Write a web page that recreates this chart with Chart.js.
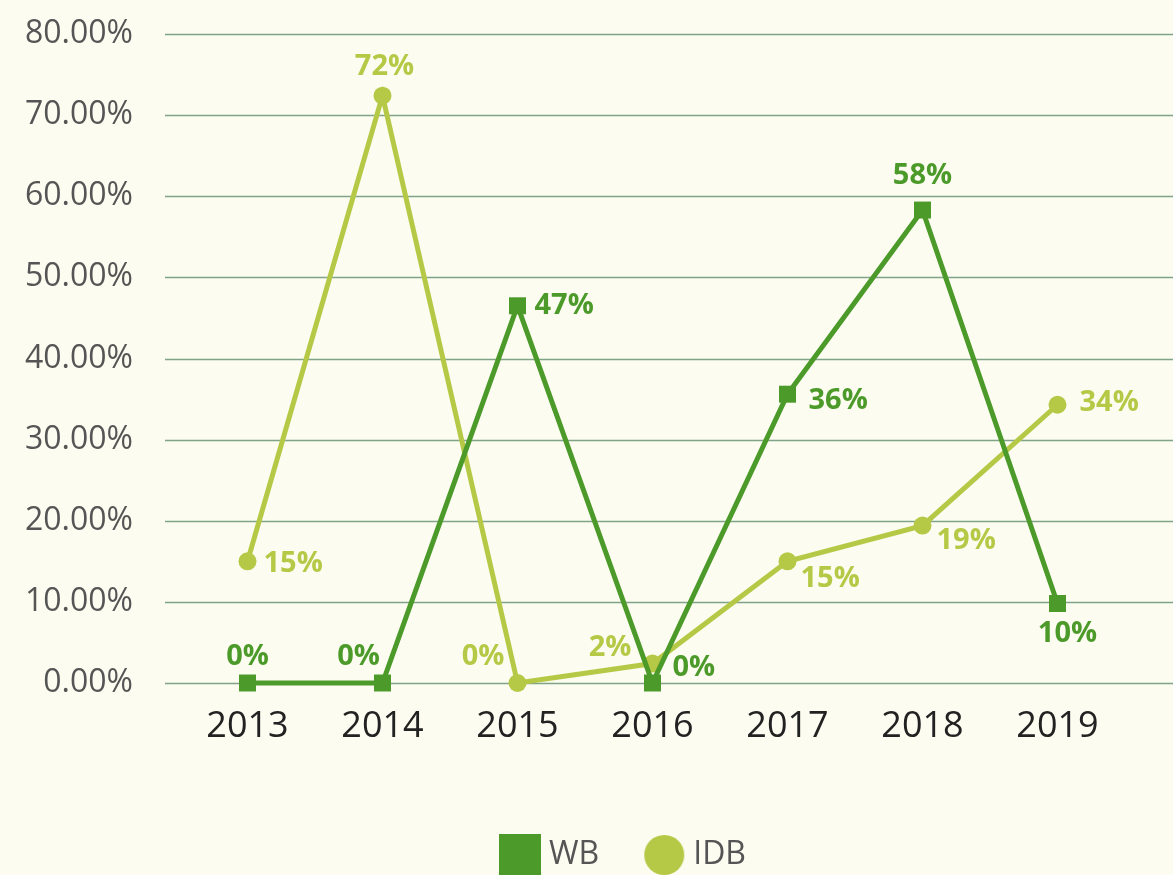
<!DOCTYPE html>
<html><head><meta charset="utf-8">
<script src="https://cdn.jsdelivr.net/npm/chart.js@4"></script>
<style>html,body{margin:0;padding:0;background:#fcfcf0;} #wrap{width:1173px;height:875px;position:relative;}</style>
</head><body><div id="wrap"><canvas id="c"></canvas></div>
<script>
const years = ['2013','2014','2015','2016','2017','2018','2019'];
const wbValues = [0, 0, 46.5, 0, 35.6, 58.3, 9.8];
const idbValues = [15, 72.4, 0, 2.4, 15, 19.4, 34.3];
const seriesNames = ['WB', 'IDB'];

const WB_COLOR = '#4c9a2a';
const IDB_COLOR = '#b6c946';
const FONT = '"Open Sans"';

// label placement (dx, dy, align) relative to each point
const labelPlacement = [
  [[0,-26,'center'],[-24,-26,'center'],[17,0,'left'],[20,-15,'left'],[21,7,'left'],[0,-34,'center'],[10,30,'center']],
  [[16,2,'left'],[2,-29,'center'],[-13,-26,'right'],[-21,-16,'right'],[13,17,'left'],[14,15,'left'],[22,-2,'left']]
];

function iconSquare(color, size){const c=document.createElement('canvas');c.width=size;c.height=size;const x=c.getContext('2d');x.fillStyle=color;x.fillRect(0,0,size,size);return c;}
function iconCircle(color, size){const c=document.createElement('canvas');c.width=size;c.height=size;const x=c.getContext('2d');x.fillStyle=color;x.beginPath();x.arc(size/2,size/2,size/2-1,0,Math.PI*2);x.fill();return c;}
const legendIcons = [iconSquare(WB_COLOR,42), iconCircle(IDB_COLOR,42)];

const bgPlugin = {id:'bg', beforeDraw(chart){const ctx=chart.ctx;ctx.save();ctx.fillStyle='#fcfcf0';ctx.fillRect(0,0,chart.width,chart.height);ctx.restore();}};
const gridPlugin = {id:'grid2', beforeDatasetsDraw(chart){
  const ctx=chart.ctx, y=chart.scales.y; ctx.save(); ctx.strokeStyle='#80a586'; ctx.lineWidth=1.5;
  y.ticks.forEach(t=>{const py=Math.round(y.getPixelForValue(t.value))+0.5; ctx.beginPath(); ctx.moveTo(165,py); ctx.lineTo(chart.width,py); ctx.stroke();});
  ctx.restore();
}};
const labelPlugin = {id:'dl', afterDatasetsDraw(chart){
  const ctx=chart.ctx; ctx.save(); ctx.font='bold 29px '+FONT; ctx.textBaseline='middle';
  chart.data.datasets.forEach((ds,di)=>{
    const meta=chart.getDatasetMeta(di);
    meta.data.forEach((pt,i)=>{
      const p=labelPlacement[di][i]; ctx.fillStyle=ds.borderColor; ctx.textAlign=p[2];
      ctx.fillText(Math.round(ds.data[i])+'%', pt.x+p[0], pt.y+p[1]);
    });
  });
  ctx.restore();
}};
const LEG_DX = 64, LEG_DY = 6;
const legendShift = {id:'legshift', afterLayout(chart){const l=chart.legend; if(!l) return; l.left+=LEG_DX; l.right+=LEG_DX; l.top+=LEG_DY; l.bottom+=LEG_DY;}};

new Chart(document.getElementById('c'), {
  type:'line',
  data:{labels:years, datasets:[
    {label:seriesNames[0], data:wbValues, borderColor:WB_COLOR, backgroundColor:WB_COLOR, borderWidth:5, pointStyle:'rect', pointRadius:12, pointBorderWidth:0, tension:0, clip:false},
    {label:seriesNames[1], data:idbValues, borderColor:IDB_COLOR, backgroundColor:IDB_COLOR, borderWidth:5, pointStyle:'circle', pointRadius:9, pointBorderWidth:0, tension:0, clip:false}
  ]},
  options:{
    responsive:true, maintainAspectRatio:false, animation:false,
    layout:{padding:{top:34,left:0,right:48,bottom:0}},
    scales:{
      x:{offset:true, grid:{display:false, drawTicks:false}, border:{display:false},
         ticks:{font:{family:'Open Sans',size:36}, color:'#222', padding:22},
         afterFit(s){s.height=98;}},
      y:{min:0,max:80, grid:{display:false, drawTicks:false}, border:{display:false},
         ticks:{stepSize:10, font:{family:'Open Sans',size:32}, color:'#555', padding:47, callback:v=>v.toFixed(2)+'%'},
         afterFit(s){s.width=180; s.paddingTop=0; s.paddingBottom=0;}}
    },
    plugins:{
      tooltip:{enabled:false},
      legend:{position:'bottom', labels:{usePointStyle:true, pointStyleWidth:26, padding:52, font:{family:'Open Sans',size:32}, color:'#555',
        generateLabels:(chart)=>chart.data.datasets.map((ds,i)=>({text:ds.label, pointStyle:legendIcons[i], fillStyle:ds.backgroundColor, strokeStyle:'rgba(0,0,0,0)', lineWidth:0, hidden:false, datasetIndex:i, fontColor:'#555'}))}}
    }
  },
  plugins:[bgPlugin, gridPlugin, labelPlugin, legendShift]
});
</script></body></html>
